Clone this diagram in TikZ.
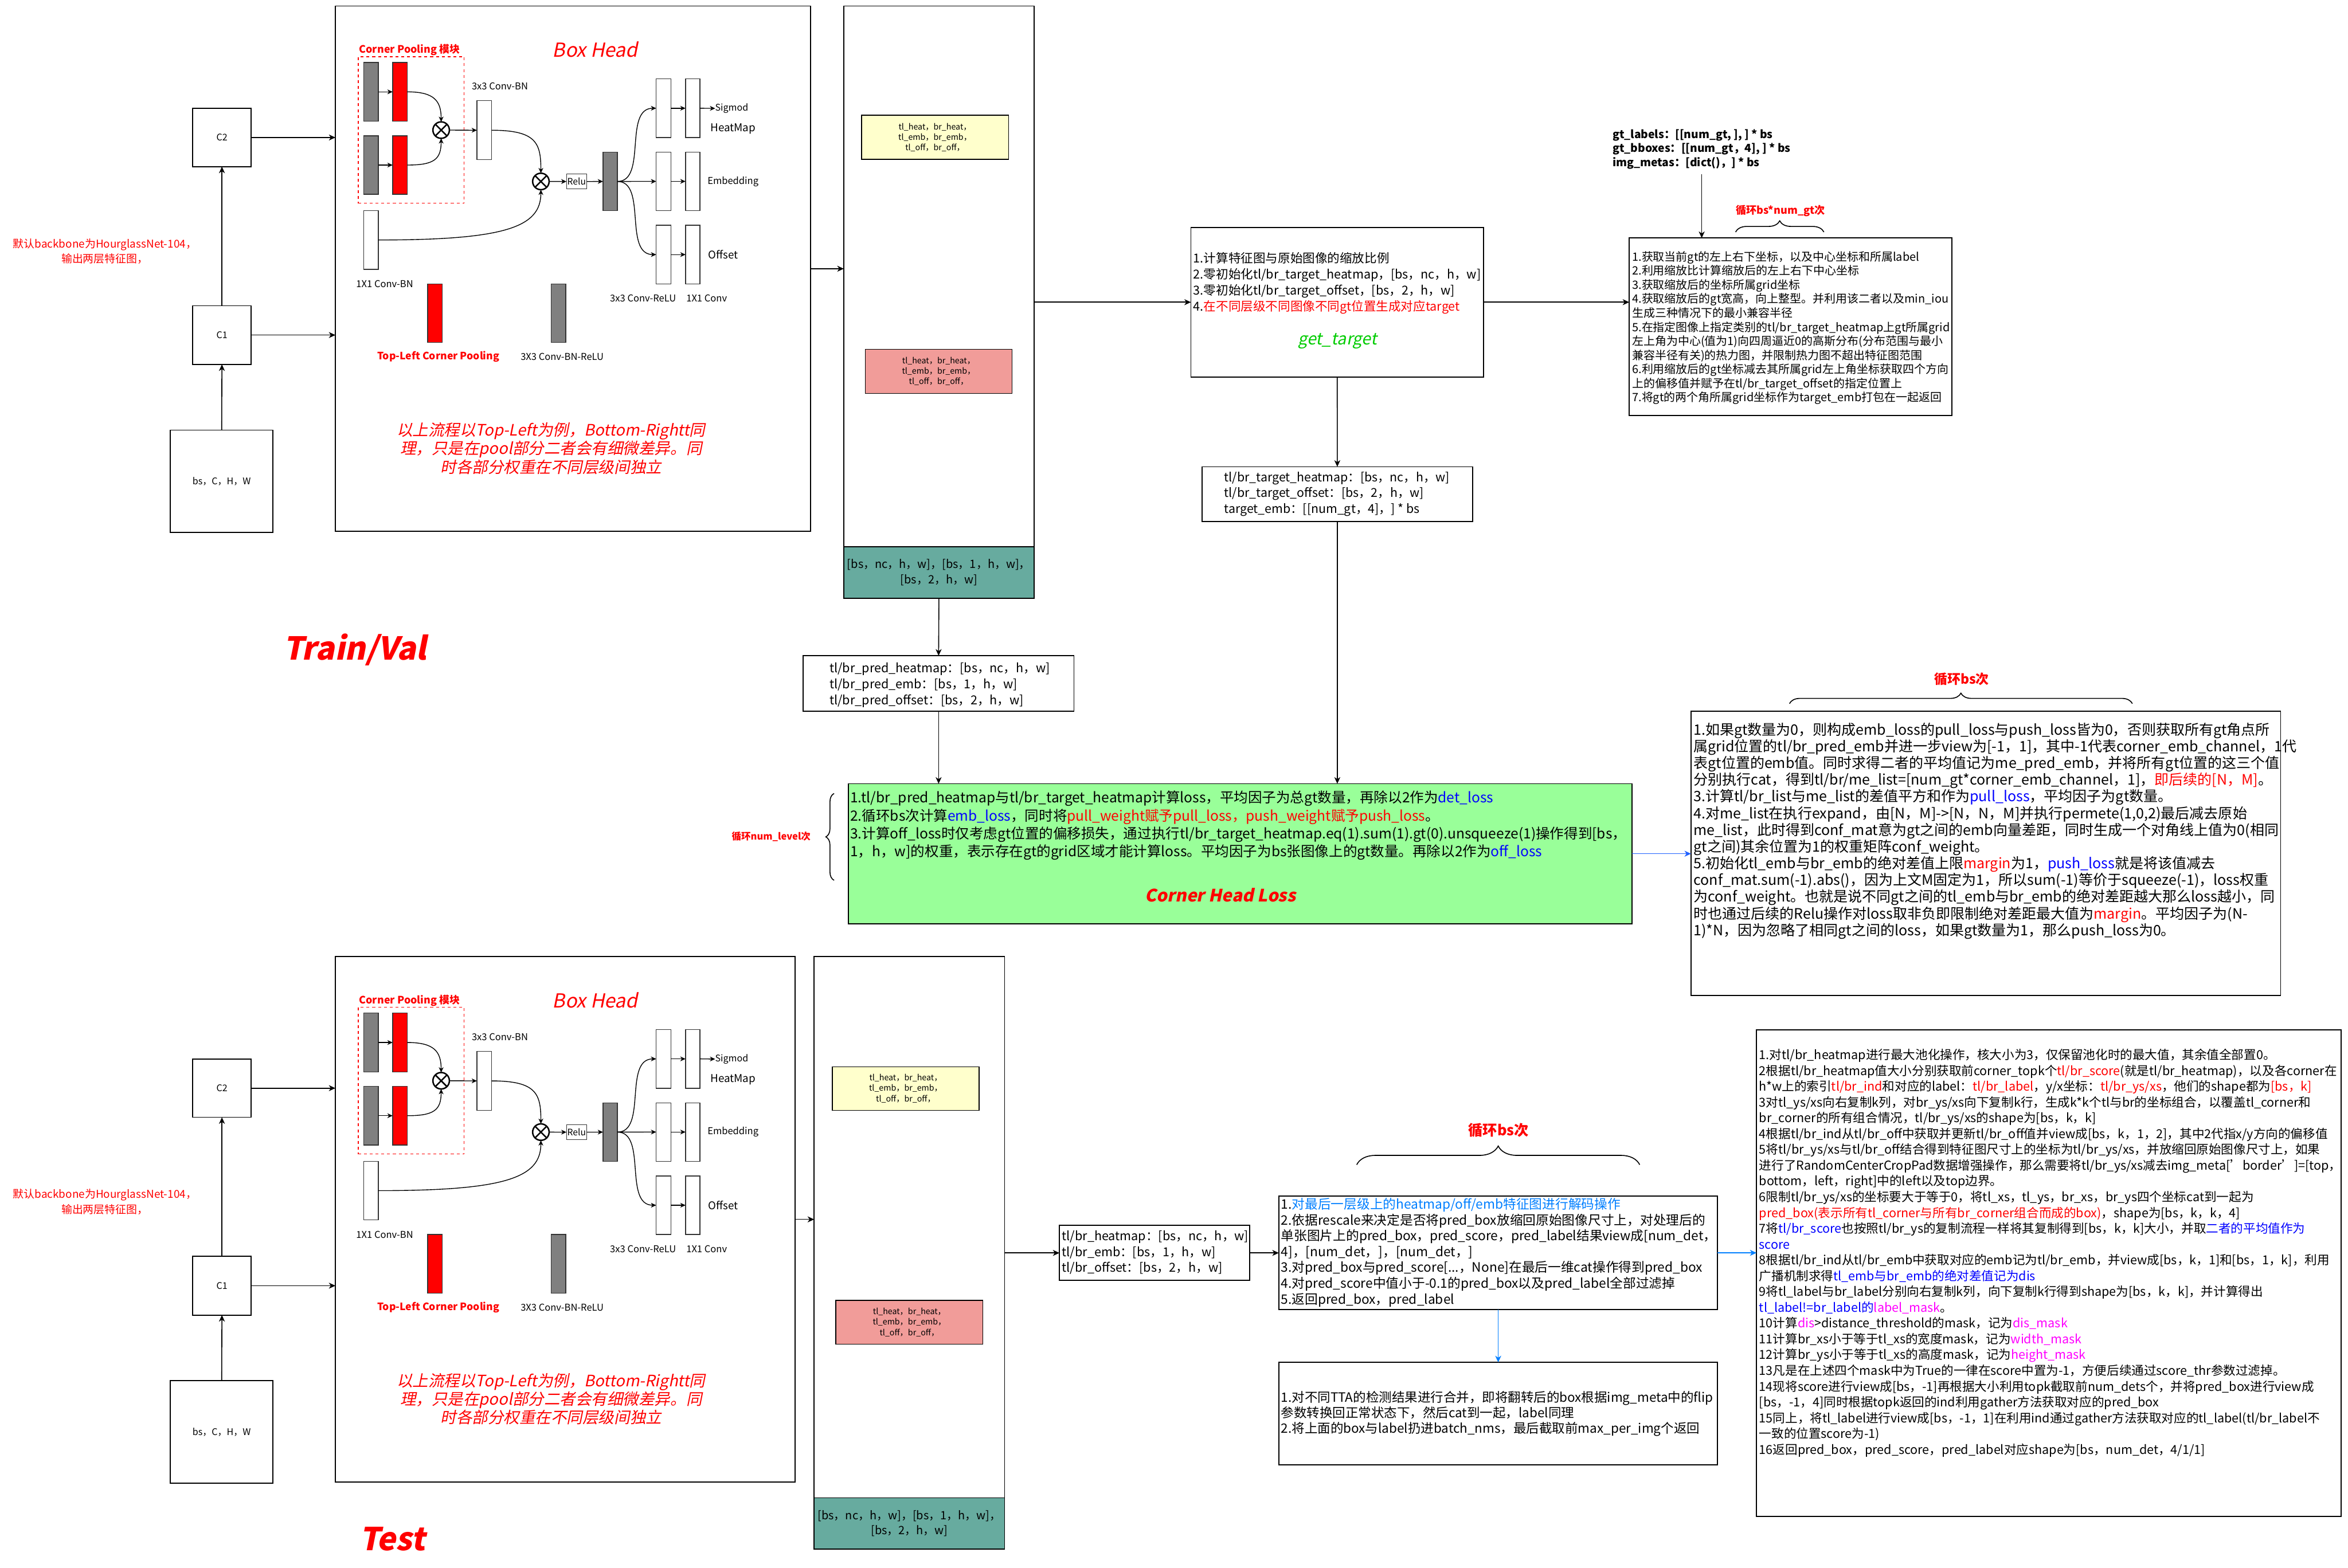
\documentclass[tikz,border=0pt]{standalone}
\usepackage{fontspec}
\setmainfont{Noto Sans CJK SC}
\newfontfamily\myslant[FakeSlant=0.2,BoldFeatures={FakeSlant=0.2}]{Noto Sans CJK SC}
\usetikzlibrary{arrows.meta,decorations.pathreplacing}
\definecolor{cred}{HTML}{FF0000}
\definecolor{cblue}{HTML}{0000FF}
\definecolor{cblue2}{HTML}{007FFF}
\definecolor{clink}{HTML}{2060FF}
\definecolor{cmag}{HTML}{FF00FF}
\definecolor{cgreen}{HTML}{99FF99}
\definecolor{cteal}{HTML}{67AB9F}
\definecolor{cyel}{HTML}{FFFFCC}
\definecolor{cpink}{HTML}{F19C99}
\definecolor{cgray}{HTML}{808080}
\definecolor{cgt}{HTML}{00CC00}
\newcommand{\fs}[2]{\fontsize{#1pt}{#2pt}\selectfont}
\newcommand{\RB}[6]{\node[#6, minimum width={(#4-#2)*0.04cm}, minimum height={(#5-#3)*0.04cm}] (#1) at ({(#2+#4)/2},{(#3+#5)/2}) {};}
\newcommand{\Otimes}[1]{\draw[line width=1.1pt] (#1.north west) -- (#1.south east) (#1.north east) -- (#1.south west);}

\newcommand{\BoxHead}[3]{%
\begin{scope}[shift={(0,#2)}]
\RB{#1bh}{224}{4}{#3}{355}{bx}
\RB{#1cp}{239.2}{37.9}{310}{135.8}{draw=cred, dash pattern=on 2.2pt off 2.2pt, line width=0.6pt, inner sep=0, outer sep=0}
\node[tcap, text=cred, font=\bfseries\fs{7.8}{9}] (#1cpt) at (273.5,33.2) {Corner Pooling 模块};
\node[tcap, text=cred, font=\myslant\fs{14.7}{16}] (#1bht) at (397.5,33.2) {Box Head};
\RB{#1g1}{242.8}{41.7}{252.6}{81}{gbar}
\RB{#1r1}{262.2}{41.7}{272}{81}{rbar}
\RB{#1g2}{242.8}{90.7}{252.6}{129.8}{gbar}
\RB{#1r2}{262.2}{90.7}{272}{129.8}{rbar}
\node[otimes] (#1o1) at (294.6,86.9) {};
\Otimes{#1o1}
\RB{#1w1}{318.5}{67.3}{328.3}{106.7}{wbar}
\node[tcap, font=\fs{7.2}{8}] (#1w1t) at (333.8,57.6) {3x3 Conv-BN};
\node[otimes] (#1o2) at (361.2,121.2) {};
\Otimes{#1o2}
\RB{#1rl}{378.3}{116.3}{391.8}{126.2}{wbar}
\node[tcap, font=\fs{6.8}{7}] (#1rlt) at (#1rl.center) {Relu};
\RB{#1g3}{402.7}{101.7}{412.3}{140.7}{gbar}
\RB{#1w0}{242.8}{140.7}{252.6}{179.9}{wbar}
\node[tcap, font=\fs{7.2}{8}] (#1w0t) at (256.9,189.6) {1X1 Conv-BN};
\RB{#1h1}{438.2}{52.7}{448}{91.9}{wbar}
\RB{#1h2}{457.8}{52.7}{467.4}{91.9}{wbar}
\RB{#1e1}{438.2}{101.6}{448}{140.7}{wbar}
\RB{#1e2}{457.8}{101.6}{467.4}{140.7}{wbar}
\RB{#1f1}{438.2}{150.5}{448}{189.6}{wbar}
\RB{#1f2}{457.8}{150.5}{467.4}{189.6}{wbar}
\node[tcap, anchor=west, font=\fs{7}{8}] (#1sig) at (477.6,72.4) {Sigmod};
\node[tcap, font=\fs{8.2}{9}] (#1hmt) at (489.5,86.1) {HeatMap};
\node[tcap, font=\fs{7.2}{8}] (#1emt) at (489.5,121.2) {Embedding};
\node[tcap, font=\fs{8.1}{9}] (#1oft) at (483,170.1) {Offset};
\node[tcap, font=\fs{7.2}{8}] (#1crt) at (429.4,199.4) {3x3 Conv-ReLU};
\node[tcap, font=\fs{7.2}{8}] (#1cvt) at (471.9,199.4) {1X1 Conv};
\RB{#1lr}{285.6}{189.6}{295.4}{228.7}{rbar}
\RB{#1lg}{368}{189.6}{377.9}{228.7}{gbar}
\node[tcap, text=cred, font=\bfseries\fs{7.7}{9}] (#1lrt) at (292.7,238.4) {Top-Left Corner Pooling};
\node[tcap, font=\fs{7.2}{8}] (#1lgt) at (375.4,238.4) {3X3 Conv-BN-ReLU};
\node[tcap, text=cred, align=center, font=\myslant\fs{12}{14.1}] (#1note) at (368,299.5) {以上流程以Top-Left为例，Bottom-Rightt同\\理，只是在pool部分二者会有细微差异。同\\时各部分权重在不同层级间独立};
\draw[sarr] (#1g1.east) -- (#1r1.west);
\draw[sarr] (#1g2.east) -- (#1r2.west);
\draw[sarr] (#1r1.east) .. controls +(18,0) and +(0,-14) .. (#1o1.north);
\draw[sarr] (#1r2.east) .. controls +(18,0) and +(0,14) .. (#1o1.south);
\draw[sarr] (#1o1.east) -- (#1w1.west);
\draw[sarr] (#1w1.east) .. controls +(30,0) and +(0,-20) .. (#1o2.north);
\draw[sarr] (#1w0.east) .. controls +(85,0) and +(0,25) .. (#1o2.south);
\draw[sarr] (#1o2.east) -- (#1rl.west);
\draw[sarr] (#1rl.east) -- (#1g3.west);
\draw[sarr] (#1g3.east) .. controls +(20,0) and +(-22,0) .. (#1h1.west);
\draw[sarr] (#1g3.east) -- (#1e1.west);
\draw[sarr] (#1g3.east) .. controls +(20,0) and +(-22,0) .. (#1f1.west);
\draw[sarr] (#1h1.east) -- (#1h2.west);
\draw[sarr] (#1e1.east) -- (#1e2.west);
\draw[sarr] (#1f1.east) -- (#1f2.west);
\draw[sarr] (#1h2.east) -- (#1sig.west);
\end{scope}}

\newcommand{\LeftPart}[2]{%
\begin{scope}[shift={(0,#2)}]
\RB{#1in}{113.8}{287.3}{182.3}{355.6}{bx}
\node[tcap, font=\fs{7}{8}] (#1int) at (#1in.center) {bs，C，H，W};
\RB{#1c1}{128.6}{204.2}{167.8}{243.4}{bx}
\node[tcap, font=\fs{7}{8}] (#1c1t) at (#1c1.center) {C1};
\RB{#1c2}{128.6}{72.4}{167.8}{111.3}{bx}
\node[tcap, font=\fs{7}{8}] (#1c2t) at (#1c2.center) {C2};
\draw[arr] (#1in.north) -- (#1c1.south);
\draw[arr] (#1c1.north) -- (#1c2.south);
\node[tcap, text=cred, align=center, font=\fs{8.25}{11.5}] (#1bb) at (70,167.8) {默认backbone为HourglassNet-104，\\输出两层特征图，};
\end{scope}}

\newcommand{\YelText}{tl\_heat，br\_heat，\\tl\_emb，br\_emb，\\tl\_off，br\_off，}

\begin{document}
\begin{tikzpicture}[x=0.04cm,y=-0.04cm,
  bx/.style={draw, line width=0.8pt, inner sep=0, outer sep=0},
  gbar/.style={draw=black!80, fill=cgray, line width=0.6pt, inner sep=0, outer sep=0},
  rbar/.style={draw=black!80, fill=cred, line width=0.6pt, inner sep=0, outer sep=0},
  wbar/.style={draw=black!80, fill=white, line width=0.6pt, inner sep=0, outer sep=0},
  tcap/.style={inner sep=0, outer sep=0},
  otimes/.style={circle, draw, line width=1.1pt, minimum size=0.44cm, inner sep=0, outer sep=0, fill=white},
  arr/.style={-{Stealth[length=5pt,width=4.5pt,inset=1.5pt]}, line width=0.7pt},
  sarr/.style={-{Stealth[length=4pt,width=3.6pt,inset=1.2pt]}, line width=0.6pt},
  brc/.style={decorate, decoration={brace, amplitude=#1}, line width=0.7pt}]
\fill[white] (0,0) rectangle (1568,1047);
\useasboundingbox (0,0) rectangle (1568,1047);

% ---------------- Train / Val ----------------
\LeftPart{T}{0}
\BoxHead{T}{0}{541.3}
\draw[arr] (Tc2.east) -- (Tc2.east -| Tbh.west);
\draw[arr] (Tc1.east) -- (Tc1.east -| Tbh.west);

\RB{Tcol}{563.5}{4}{690.5}{399.5}{bx}
\RB{Tyel}{575.3}{77}{673.5}{106.4}{bx, fill=cyel, line width=0.6pt}
\node[tcap, align=center, font=\fs{6.2}{7.9}] (Tyelt) at (Tyel.center) {\YelText};
\RB{Tpnk}{577.8}{233.3}{675.9}{262.8}{bx, fill=cpink, line width=0.6pt}
\node[tcap, align=center, font=\fs{6.2}{7.9}] (Tpnkt) at (Tpnk.center) {\YelText};
\RB{Tteal}{563.5}{365.3}{690.5}{399.5}{bx, fill=cteal}
\node[tcap, align=center, font=\fs{8.7}{11.6}] (Ttealt) at (Tteal.center) {[bs，nc，h，w]，[bs，1，h，w]，\\{}[bs，2，h，w]};
\draw[arr] (Tbh.east) -- (Tbh.east -| Tcol.west);

\RB{pred}{536.4}{438}{717.2}{475}{bx}
\node[tcap, anchor=west, align=left, font=\fs{9.4}{12.2}] (predt) at (554,457.7) {tl/br\_pred\_heatmap：[bs，nc，h，w]\\tl/br\_pred\_emb：[bs，1，h，w]\\tl/br\_pred\_offset：[bs，2，h，w]};
\draw[arr] (Tcol.south) -- (pred.north);

\RB{gtb}{795.3}{151.9}{990.7}{251.8}{bx}
\node[tcap, anchor=west, align=left, font=\fs{9.4}{12.2}] (gtbt) at (797,189) {1.计算特征图与原始图像的缩放比例\\2.零初始化tl/br\_target\_heatmap，[bs，nc，h，w]\\3.零初始化tl/br\_target\_offset，[bs，2，h，w]\\4.\textcolor{cred}{在不同层级不同图像不同gt位置生成对应target}};
\node[tcap, text=cgt, font=\myslant\fs{12.5}{14}] (gtbl) at (893.2,228) {get\_target};
\draw[arr] (Tcol.east |- gtb.west) -- (gtb.west);

\RB{tgt}{802.6}{311.8}{983.5}{348.5}{bx}
\node[tcap, anchor=west, align=left, font=\fs{9.3}{12}] (tgtt) at (817.6,330) {tl/br\_target\_heatmap：[bs，nc，h，w]\\tl/br\_target\_offset：[bs，2，h，w]\\target\_emb：[[num\_gt，4]，] * bs};
\draw[arr] (gtb.south) -- (tgt.north);

\node[tcap, anchor=west, align=left, font=\bfseries\fs{8.4}{10.6}] (gtin) at (1076.9,99.7) {gt\_labels：[[num\_gt, ], ] * bs\\gt\_bboxes：[[num\_gt，4], ] * bs\\img\_metas：[dict()，] * bs};
\RB{rbox}{1088}{159}{1303.6}{277.5}{bx}
\node[tcap, anchor=west, align=left, font=\fs{8.7}{10.7}] (rboxt) at (1090,219) {1.获取当前gt的左上右下坐标，以及中心坐标和所属label\\2.利用缩放比计算缩放后的左上右下中心坐标\\3.获取缩放后的坐标所属grid坐标\\4.获取缩放后的gt宽高，向上整型。并利用该二者以及min\_iou\\生成三种情况下的最小兼容半径\\5.在指定图像上指定类别的tl/br\_target\_heatmap上gt所属grid\\左上角为中心(值为1)向四周逼近0的高斯分布(分布范围与最小\\兼容半径有关)的热力图，并限制热力图不超出特征图范围\\6.利用缩放后的gt坐标减去其所属grid左上角坐标获取四个方向\\上的偏移值并赋予在tl/br\_target\_offset的指定位置上\\7.将gt的两个角所属grid坐标作为target\_emb打包在一起返回};
\coordinate (gtarr) at (1136.4,116.5);
\draw[arr] (gtarr) -- (gtarr |- rbox.north);
\draw[arr] (gtb.east) -- (gtb.east -| rbox.west);
\draw[brc=0.3cm] (1159,155) -- (1218,155);
\node[tcap, text=cred, font=\bfseries\fs{7.9}{9}] (rbrl) at (1189,140.7) {循环bs*num\_gt次};

\RB{grn}{566.5}{523.5}{1090}{617}{bx, fill=cgreen}
\node[tcap, anchor=west, align=left, font=\fs{10.7}{13.6}] (grnt) at (567.8,551.4) {1.tl/br\_pred\_heatmap与tl/br\_target\_heatmap计算loss，平均因子为总gt数量，再除以2作为\textcolor{cblue}{det\_loss}\\2.循环bs次计算\textcolor{cblue}{emb\_loss}，同时将\textcolor{cred}{pull\_weight赋予pull\_loss，push\_weight赋予push\_loss}。\\3.计算off\_loss时仅考虑gt位置的偏移损失，通过执行tl/br\_target\_heatmap.eq(1).sum(1).gt(0).unsqueeze(1)操作得到[bs，\\1，h，w]的权重，表示存在gt的grid区域才能计算loss。平均因子为bs张图像上的gt数量。再除以2作为\textcolor{cblue}{off\_loss}};
\node[tcap, text=cred, font=\myslant\bfseries\fs{13}{15}] (grnl) at (815,597.8) {Corner Head Loss};
\draw[arr] (pred.south) -- (pred.south |- grn.north);
\draw[arr] (tgt.south) -- (tgt.south |- grn.north);
\draw[brc=0.22cm] (557,588) -- (557,530);
\node[tcap, text=cred, font=\bfseries\fs{7.2}{8}] (grnb) at (515,559) {循环num\_level次};

\RB{loss}{1129.3}{475}{1523}{665}{bx}
\node[tcap, anchor=west, align=left, font=\fs{10.9}{12.7}] (losst) at (1131,555) {1.如果gt数量为0，则构成emb\_loss的pull\_loss与push\_loss皆为0，否则获取所有gt角点所\\属grid位置的tl/br\_pred\_emb并进一步view为[-1，1]，其中-1代表corner\_emb\_channel，1代\\表gt位置的emb值。同时求得二者的平均值记为me\_pred\_emb，并将所有gt位置的这三个值\\分别执行cat，得到tl/br/me\_list=[num\_gt*corner\_emb\_channel，1]，\textcolor{cred}{即后续的[N，M]}。\\3.计算tl/br\_list与me\_list的差值平方和作为\textcolor{cblue}{pull\_loss}，平均因子为gt数量。\\4.对me\_list在执行expand，由[N，M]->[N，N，M]并执行permete(1,0,2)最后减去原始\\me\_list，此时得到conf\_mat意为gt之间的emb向量差距，同时生成一个对角线上值为0(相同\\gt之间)其余位置为1的权重矩阵conf\_weight。\\5.初始化tl\_emb与br\_emb的绝对差值上限\textcolor{cred}{margin}为1，\textcolor{cblue}{push\_loss}就是将该值减去\\conf\_mat.sum(-1).abs()，因为上文M固定为1，所以sum(-1)等价于squeeze(-1)，loss权重\\为conf\_weight。也就是说不同gt之间的tl\_emb与br\_emb的绝对差距越大那么loss越小，同\\时也通过后续的Relu操作对loss取非负即限制绝对差距最大值为\textcolor{cred}{margin}。平均因子为(N-\\1)*N，因为忽略了相同gt之间的loss，如果gt数量为1，那么push\_loss为0。};
\draw[arr, color=clink] (grn.east) -- (grn.east -| loss.west);
\draw[brc=0.28cm] (1195,470) -- (1424,470);
\node[tcap, text=cred, font=\bfseries\fs{10}{11}] (lossb) at (1310,453.6) {循环bs次};

\node[tcap, text=cred, font=\myslant\bfseries\fs{24}{26}] (trainl) at (237,434) {Train/Val};

% ---------------- Test ----------------
\LeftPart{B}{635}
\BoxHead{B}{635}{531}
\draw[arr] (Bc2.east) -- (Bc2.east -| Bbh.west);
\draw[arr] (Bc1.east) -- (Bc1.east -| Bbh.west);

\RB{Bcol}{543.7}{639}{670.9}{1034.8}{bx}
\RB{Byel}{555.9}{712.5}{653.8}{741.6}{bx, fill=cyel, line width=0.6pt}
\node[tcap, align=center, font=\fs{6.2}{7.9}] (Byelt) at (Byel.center) {\YelText};
\RB{Bpnk}{558.2}{868.6}{656.4}{897.9}{bx, fill=cpink, line width=0.6pt}
\node[tcap, align=center, font=\fs{6.2}{7.9}] (Bpnkt) at (Bpnk.center) {\YelText};
\RB{Bteal}{543.7}{1000.5}{670.9}{1034.8}{bx, fill=cteal}
\node[tcap, align=center, font=\fs{8.7}{11.6}] (Btealt) at (Bteal.center) {[bs，nc，h，w]，[bs，1，h，w]，\\{}[bs，2，h，w]};
\draw[arr] (Bbh.east) -- (Bbh.east -| Bcol.west);

\RB{hm}{707.5}{818.6}{834.5}{855.2}{bx}
\node[tcap, anchor=west, align=left, font=\fs{9.4}{12}] (hmt) at (709.2,836.7) {tl/br\_heatmap：[bs，nc，h，w]\\tl/br\_emb：[bs，1，h，w]\\tl/br\_offset：[bs，2，h，w]};
\draw[arr] (Bcol.east |- hm.west) -- (hm.west);

\RB{dec}{854}{799}{1147}{874.7}{bx}
\node[tcap, anchor=west, align=left, font=\fs{9.9}{12}] (dect) at (855.5,836.6) {1.\textcolor{cblue2}{对最后一层级上的heatmap/off/emb特征图进行解码操作}\\2.依据rescale来决定是否将pred\_box放缩回原始图像尺寸上，对处理后的\\单张图片上的pred\_box，pred\_score，pred\_label结果view成[num\_det，\\4]，[num\_det，]，[num\_det，]\\3.对pred\_box与pred\_score[...，None]在最后一维cat操作得到pred\_box\\4.对pred\_score中值小于-0.1的pred\_box以及pred\_label全部过滤掉\\5.返回pred\_box，pred\_label};
\draw[arr] (hm.east) -- (hm.east -| dec.west);
\draw[brc=0.5cm] (906,778) -- (1095,778);
\node[tcap, text=cred, font=\bfseries\fs{11}{12}] (decb) at (1000.7,755) {循环bs次};

\RB{tta}{854}{910}{1147}{978.5}{bx}
\node[tcap, anchor=west, align=left, font=\fs{9.8}{11.9}] (ttat) at (855.5,944.3) {1.对不同TTA的检测结果进行合并，即将翻转后的box根据img\_meta中的flip\\参数转换回正常状态下，然后cat到一起，label同理\\2.将上面的box与label扔进batch\_nms，最后截取前max\_per\_img个返回};
\draw[arr, color=cblue2] (dec.south) -- (tta.north);

\RB{brb}{1173}{688}{1563.5}{1013}{bx}
\node[tcap, anchor=west, align=left, font=\fs{9.4}{12}] (brbt) at (1174.8,836.9) {1.对tl/br\_heatmap进行最大池化操作，核大小为3，仅保留池化时的最大值，其余值全部置0。\\2根据tl/br\_heatmap值大小分别获取前corner\_topk个\textcolor{cred}{tl/br\_score}(就是tl/br\_heatmap)，以及各corner在\\h*w上的索引\textcolor{cred}{tl/br\_ind}和对应的label：\textcolor{cred}{tl/br\_label}，y/x坐标：\textcolor{cred}{tl/br\_ys/xs}，他们的shape都为\textcolor{cred}{[bs，k]}\\3对tl\_ys/xs向右复制k列，对br\_ys/xs向下复制k行，生成k*k个tl与br的坐标组合，以覆盖tl\_corner和\\br\_corner的所有组合情况，tl/br\_ys/xs的shape为[bs，k，k]\\4根据tl/br\_ind从tl/br\_off中获取并更新tl/br\_off值并view成[bs，k，1，2]，其中2代指x/y方向的偏移值\\5将tl/br\_ys/xs与tl/br\_off结合得到特征图尺寸上的坐标为tl/br\_ys/xs，并放缩回原始图像尺寸上，如果\\进行了RandomCenterCropPad数据增强操作，那么需要将tl/br\_ys/xs减去img\_meta['border']=[top，\\bottom，left，right]中的left以及top边界。\\6限制tl/br\_ys/xs的坐标要大于等于0，将tl\_xs，tl\_ys，br\_xs，br\_ys四个坐标cat到一起为\\\textcolor{cred}{pred\_box(表示所有tl\_corner与所有br\_corner组合而成的box)}，shape为[bs，k，k，4]\\7将\textcolor{cblue}{tl/br\_score}也按照tl/br\_ys的复制流程一样将其复制得到[bs，k，k]大小，并取\textcolor{cblue}{二者的平均值作为}\\\textcolor{cblue}{score}\\8根据tl/br\_ind从tl/br\_emb中获取对应的emb记为tl/br\_emb，并view成[bs，k，1]和[bs，1，k]，利用\\广播机制求得\textcolor{cblue}{tl\_emb与br\_emb的绝对差值记为dis}\\9将tl\_label与br\_label分别向右复制k列，向下复制k行得到shape为[bs，k，k]，并计算得出\\\textcolor{cblue}{tl\_label!=br\_label的}\textcolor{cmag}{label\_mask}。\\10计算\textcolor{cmag}{dis}>distance\_threshold的mask，记为\textcolor{cmag}{dis\_mask}\\11计算br\_xs小于等于tl\_xs的宽度mask，记为\textcolor{cmag}{width\_mask}\\12计算br\_ys小于等于tl\_xs的高度mask，记为\textcolor{cmag}{height\_mask}\\13凡是在上述四个mask中为True的一律在score中置为-1，方便后续通过score\_thr参数过滤掉。\\14现将score进行view成[bs，-1]再根据大小利用topk截取前num\_dets个，并将pred\_box进行view成\\{}[bs，-1，4]同时根据topk返回的ind利用gather方法获取对应的pred\_box\\15同上，将tl\_label进行view成[bs，-1，1]在利用ind通过gather方法获取对应的tl\_label(tl/br\_label不\\一致的位置score为-1)\\16返回pred\_box，pred\_score，pred\_label对应shape为[bs，num\_det，4/1/1]};
\draw[arr, color=cblue2] (dec.east) -- (dec.east -| brb.west);

\node[tcap, text=cred, font=\myslant\bfseries\fs{24}{26}] (testl) at (262,1028) {Test};
\end{tikzpicture}
\end{document}
